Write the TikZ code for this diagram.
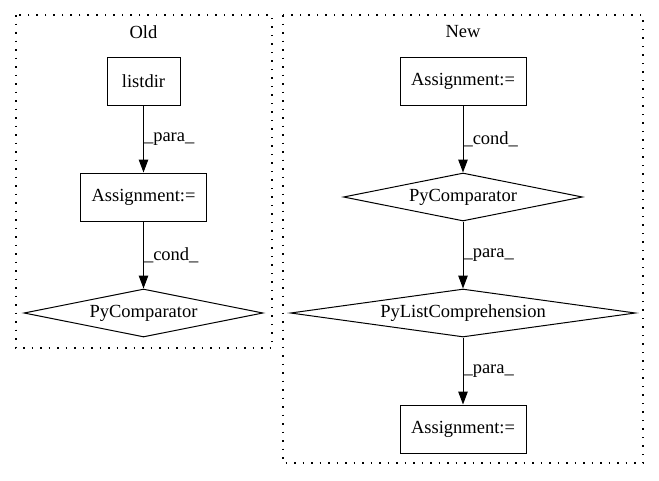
\documentclass[tikz,border=0pt]{standalone}
\usepackage{fontspec}
\setmainfont{Liberation Serif}
\usetikzlibrary{arrows.meta}
\usetikzlibrary{shapes.geometric}

\begin{document}
\begin{tikzpicture}[x=1pt, y=-1pt, font=\fontsize{18.5}{21}\selectfont,
    box/.style={draw, line width=1pt, minimum height=48pt, inner sep=0pt},
    cmp/.style={draw, line width=1pt, diamond, aspect=4, inner sep=0pt, minimum height=48pt},
    flow/.style={-{Triangle[length=13pt,width=9.5pt]}, line width=1pt},
    lab/.style={right, inner sep=0pt},
    cluster/.style={line width=1.1pt, dash pattern=on 1.5pt off 7pt}]
    \useasboundingbox (0, 0) rectangle (659, 480);
    % clusters
    \draw[cluster] (16, 15) rectangle (272, 348);
    \draw[cluster] (283, 15) rectangle (643, 463);
    \node (oldtitle) at (143.5, 32) {Old};
    \node (newtitle) at (463, 32) {New};
    % old
    \node[box, minimum width=73pt] (listdir) at (143.5, 81) {listdir};
    \node[box, minimum width=126pt] (oldassign) at (143.5, 197) {Assignment:=};
    \node[cmp, minimum width=239pt] (oldcmp) at (143.5, 313) {PyComparator};
    \draw[flow] (listdir) -- (oldassign) node[lab, midway] {\_para\_};
    \draw[flow] (oldassign) -- (oldcmp) node[lab, midway] {\_cond\_};
    % new
    \node[box, minimum width=126pt] (newassign) at (463, 81) {Assignment:=};
    \node[cmp, minimum width=239pt] (newcmp) at (463, 197) {PyComparator};
    \node[cmp, aspect=7, minimum width=345pt] (listcomp) at (463, 313) {PyListComprehension};
    \node[box, minimum width=126pt] (lastassign) at (463, 429) {Assignment:=};
    \draw[flow] (newassign) -- (newcmp) node[lab, midway] {\_cond\_};
    \draw[flow] (newcmp) -- (listcomp) node[lab, midway] {\_para\_};
    \draw[flow] (listcomp) -- (lastassign) node[lab, midway] {\_para\_};
\end{tikzpicture}
\end{document}
